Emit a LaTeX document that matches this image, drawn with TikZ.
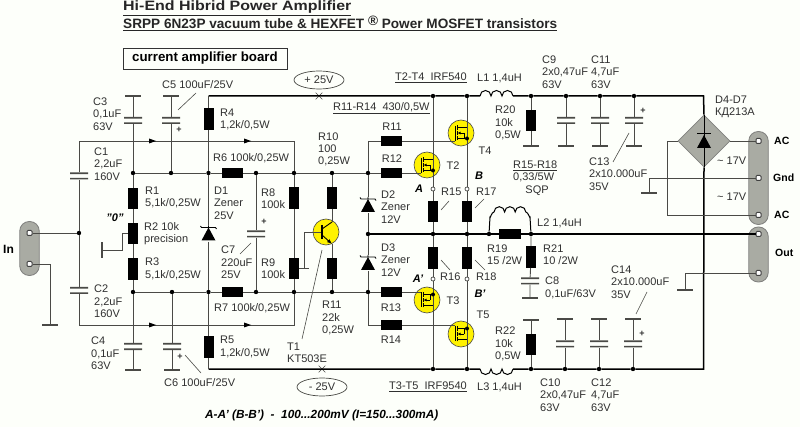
\documentclass[tikz,border=0pt]{standalone}
\usepackage{fontspec}
\setmainfont{Liberation Sans}
\usetikzlibrary{arrows.meta,calc,shapes.geometric,shapes.misc}
\definecolor{paper}{HTML}{FDFFFA}
\definecolor{wirec}{HTML}{4A4A46}
\definecolor{labc}{HTML}{303030}
\definecolor{stripc}{HTML}{A9ABA3}
\tikzset{
  wire/.style={wirec, line width=0.9pt},
  rail/.style={black, line width=1.5pt},
  lead/.style={wirec, line width=0.6pt},
  res/.style={rectangle, fill=black, inner sep=0pt, minimum width=10pt, minimum height=21.5pt},
  hres/.style={rectangle, fill=black, inner sep=0pt, minimum width=21.5pt, minimum height=10pt},
  dot/.style={circle, fill=black, inner sep=0pt, minimum size=4.4pt},
  opendot/.style={circle, draw=wirec, fill=white, line width=0.7pt, inner sep=0pt, minimum size=4pt},
  bar/.style={rectangle, fill=wirec, inner sep=0pt, minimum width=16pt, minimum height=1.4pt},
  vbar/.style={rectangle, fill=wirec, inner sep=0pt, minimum width=1.4pt, minimum height=16pt},
  capv/.style={rectangle, inner sep=0pt, minimum width=18pt, minimum height=7pt, path picture={
    \fill[wirec, shift={(path picture bounding box.center)}] (-9,-3.5) rectangle (9,-1.9) (-9,1.9) rectangle (9,3.5);}},
  zen/.style={rectangle, inner sep=0pt, minimum width=18pt, minimum height=16pt, path picture={
    \begin{scope}[shift={(path picture bounding box.center)}]
    \fill[black] (-7,7) -- (7,7) -- (0,-6) -- cycle;
    \draw[black, line width=0.9pt] (-8,-7.5) -- (-7,-6) -- (7,-6) -- (8,-4.5) (0,-8) -- (0,-6);
    \end{scope}}},
  trans/.style={circle, fill=yellow, draw=wirec, line width=0.6pt, inner sep=0pt, minimum size=26pt},
  strip/.style={rectangle, rounded corners=9.5pt, fill=stripc, draw=wirec!70, line width=0.8pt, inner sep=0pt, minimum width=19.5pt},
  hole/.style={rectangle, rounded corners=1pt, fill=white, draw=black!75, line width=1pt, inner sep=0pt, minimum size=5pt},
  ell/.style={ellipse, draw=wirec, line width=0.7pt, inner sep=0pt, minimum width=50pt, minimum height=18pt, text=labc, font=\fontsize{11}{12}\selectfont},
  xmark/.style={cross out, draw=wirec, line width=0.6pt, inner sep=0pt, minimum size=6pt},
  lab/.style={anchor=west, align=left, inner sep=0pt, text=labc, font=\fontsize{11}{12.3}\selectfont},
  clab/.style={inner sep=0pt, text=labc, font=\fontsize{11}{12.3}\selectfont},
  tag/.style={inner sep=0pt, text=black, font=\fontsize{11}{12}\bfseries\itshape\selectfont},
  conn/.style={anchor=west, inner sep=0pt, text=black, font=\fontsize{10.5}{12}\bfseries\selectfont},
  titlelab/.style={anchor=west, inner sep=0pt, text=black!85, font=\fontsize{13.6}{15}\bfseries\selectfont},
}
\newcommand{\fetsym}[2]{%
  \begin{scope}[shift={(#1.center)}, yscale=#2, black, line width=0.9pt]
  \draw (-6,-7) -- (-6,8);
  \draw (-4,-7.5) -- (-4,-3) (-4,-2) -- (-4,2) (-4,3) -- (-4,7.5);
  \draw (-4,-5.5) -- (6,-5.5) (-4,5.5) -- (6,5.5) (3,0) -- (3,5.5);
  \draw[-{Latex[length=3pt,width=3pt]}] (3,0) -- (-3.5,0);
  \fill (6,5.5) circle (2);
  \end{scope}}
\newcommand{\coilup}[1]{\draw[rail, line width=1pt] (#1) foreach \k in {1,2,3} {arc (180:360:5.5)};}
\begin{document}
\begin{tikzpicture}[x=1pt,y=-1pt]
\useasboundingbox (0,0) rectangle (800,427);
\fill[paper] (0,0) rectangle (800,427);

% Title and board name
\node[titlelab] (title1) at (123,8) {\scalebox{1.175}[1]{\underline{Hi-End Hibrid Power Amplifier}}};
\node[titlelab] (title2) at (123,23) {\underline{SRPP 6N23P vacuum tube \& HEXFET \raisebox{3pt}{\textregistered} Power MOSFET transistors}};
\node[draw=black!80, line width=0.8pt, inner sep=0pt, minimum width=164pt, minimum height=21pt, font=\fontsize{13.3}{15}\bfseries\selectfont] (board) at (205,58.5) {current amplifier board};

% Supply marks
\node[ell] (vplus) at (319,80) {+ 25V};
\node[ell] (vminus) at (322,387) {- 25V};
\node[xmark] (xplus) at (319,96) {};
\node[xmark] (xminus) at (322,369) {};

% Connectors
\node[strip, minimum height=54pt] (inbar) at (29.5,248.5) {};
\node[hole] (in1) at (29.5,233) {};
\node[hole] (in2) at (29.5,264) {};
\node[strip, minimum height=93pt] (acbar) at (758.5,178) {};
\node[hole] (ac1) at (758.5,141) {};
\node[hole] (gnd1) at (758.5,178) {};
\node[hole] (ac2) at (758.5,215) {};
\node[strip, minimum height=55pt] (outbar) at (758.5,254.5) {};
\node[hole] (out1) at (758.5,234) {};
\node[hole] (out2) at (758.5,273) {};

% Resistors
\node[res] (R4) at (208.5,119) {};
\node[res] (R1) at (133,198.5) {};
\node[res] (R2) at (133,233.5) {};
\node[res] (R3) at (133,269) {};
\node[res] (R5) at (208.5,347) {};
\node[hres] (R6) at (232.5,173) {};
\node[hres] (R7) at (232.5,292) {};
\node[res] (R8) at (294,198) {};
\node[res] (R9) at (294,268.5) {};
\node[res] (R10) at (332,198) {};
\node[res] (R11b) at (332,268.5) {};
\node[hres] (R11) at (391.5,141) {};
\node[hres] (R12) at (391.5,173) {};
\node[hres] (R13) at (391.5,292) {};
\node[hres] (R14) at (391.5,325) {};
\node[res] (R15) at (433,211.5) {};
\node[res] (R16) at (433,258) {};
\node[res] (R17) at (467,211.5) {};
\node[res] (R18) at (467,258) {};
\node[hres] (R19) at (510,234) {};
\node[res] (R20) at (531,120.5) {};
\node[res] (R21) at (531,257) {};
\node[res] (R22) at (531,344.5) {};

% Capacitors
\node[capv] (C1) at (79,176) {};
\node[capv] (C2) at (79,290.5) {};
\node[capv] (C3) at (133,120.5) {};
\node[capv] (C4) at (133,346.5) {};
\node[capv] (C5) at (171,120.5) {};
\node[capv] (C6) at (172,346.5) {};
\node[capv] (C7) at (256,234) {};
\node[capv] (C8) at (530,281) {};
\node[capv] (C9) at (566,120.5) {};
\node[capv] (C10) at (565,344) {};
\node[capv] (C11) at (600,120.5) {};
\node[capv] (C12) at (599,344) {};
\node[capv] (C13) at (634,120.5) {};
\node[capv] (C14) at (633,344) {};
\node[bar] (bC3) at (133,96) {};
\node[bar] (bC4) at (133,370) {};
\node[bar] (bC5) at (171,96) {};
\node[bar] (bC6) at (172,370) {};
\node[bar] (bC8) at (530,298) {};
\node[bar] (bC9) at (566,146) {};
\node[bar] (bC10) at (565,319) {};
\node[bar] (bC11) at (600,146) {};
\node[bar] (bC12) at (599,319) {};
\node[bar] (bC13) at (634,146) {};
\node[bar] (bC14) at (633,319) {};
\node[bar] (bR20) at (531,146) {};
\node[bar] (bR22) at (531,320) {};

% Grounds
\node[bar] (gIn) at (50,325) {};
\node[vbar] (gR2) at (102,250) {};
\node[bar] (gGnd) at (649,193) {};
\node[bar] (gOut) at (685,290) {};

% Zeners, transistors, bridge
\node[zen] (D1) at (208.5,233.5) {};
\node[zen] (D2) at (368,205) {};
\node[zen] (D3) at (368,263) {};
\node[trans] (T1) at (326,232) {};
\node[trans] (T2) at (427,165) {};
\node[trans] (T3) at (427,300) {};
\node[trans] (T4) at (461,133) {};
\node[trans] (T5) at (461,334) {};
\node[diamond, fill=stripc, draw=wirec!70, line width=0.6pt, inner sep=0pt, minimum size=52pt] (BR) at (704,141) {};

% Junctions
\foreach \nm/\px/\py in {t433/433/96, t467/467/96, t531/531/96, t566/566/96, t600/600/96, t634/634/96,
  b433/433/369, b467/467/369, b531/531/369, b565/565/369, b599/599/369, b633/633/369,
  d133/133/173, d171/171/173, d208/208.5/173, d256/256/173, d294/294/173, d332/332/173, d368/368/173,
  e133/133/292, e172/172/292, e208/208.5/292, e256/256/292, e294/294/292, e332/332/292, e368/368/292,
  i79/79/233, m368/368/234, m433/433/234, m467/467/234, l489/489/234, l531/531/234}
  \node[dot] (\nm) at (\px,\py) {};
\node[opendot] (o15) at (433,189) {};
\node[opendot] (o17) at (467,189) {};
\node[opendot] (o16) at (433,279) {};
\node[opendot] (o18) at (467,279) {};

% Corners
\coordinate (r208) at (208.5,96);
\coordinate (r703) at (703.5,96);
\coordinate (q208) at (208.5,369);
\coordinate (q703) at (703.5,369);
\coordinate (a79) at (79,141);
\coordinate (a294) at (294,141);
\coordinate (c79) at (79,325);
\coordinate (c294) at (294,325);
\coordinate (f368) at (368,141);
\coordinate (g368) at (368,325);
\coordinate (L1a) at (480,96);
\coordinate (L3a) at (480,369);
\coordinate (L1b) at (513,96);
\coordinate (L3b) at (513,369);
\coordinate (L2a) at (490,217);
\coordinate (L2b) at (530,217);
\coordinate (k667) at (667,141);
\coordinate (n667) at (667,215);
\coordinate (gT2) at (421,173);
\coordinate (gT3) at (421,292);
\coordinate (gT4) at (455,141);
\coordinate (gT5) at (455,325);
\coordinate (cT1) at (332,222);
\coordinate (eT1) at (332,244);
\coordinate (bT1) at (322,232);
\coordinate (s304) at (304,232);
\coordinate (w304) at (304,268);
\coordinate (w309) at (309,268);
\coordinate (wR2) at (122,233.5);

% Power rails
\draw[rail] (r208) -- (t433) -- (t467) -- (L1a) (L1b) -- (t531) -- (t566) -- (t600) -- (t634) -- (r703) -- (BR.north);
\draw[rail] (q208) -- (b433) -- (b467) -- (L3a) (L3b) -- (b531) -- (b565) -- (b599) -- (b633) -- (q703) -- (BR.south);
\draw[rail] (m368) -- (m433) -- (m467) -- (l489) -- (R19) -- (l531) -- (out1);
\coilup{L1a}
\draw[rail, line width=1pt] (L3a) foreach \k in {1,2,3} {arc (180:0:5.5)};
\draw[rail, line width=1pt] (l489) -- (L2a) to[out=-90,in=180] ++(4,-5) arc (180:360:5.3) arc (180:360:5.3) arc (180:360:5.3) to[out=0,in=-90] (L2b) -- (l531);

% Input side
\draw[wire] (in1) -- (i79);
\draw[wire] (in2) -| (gIn);
\draw[wire] (C1) -- (a79) -- (a294) -- (d294);
\draw[wire] (C1) -- (i79) -- (C2);
\draw[wire] (C2) -- (c79) -- (c294) -- (e294);
\draw[wire] (bC3) -- (C3);
\draw[wire] (C3) -- (d133) -- (R1) -- (R2) -- (R3) -- (e133) -- (C4) -- (bC4);
\draw[wire] (bC5) -- (C5) -- (d171);
\draw[wire] (e172) -- (C6) -- (bC6);
\draw[wire] (R2.west) -- (wR2) -- (wR2 |- gR2) -- (gR2);
\draw[wire] (r208) -- (R4) -- (d208) -- (D1) -- (e208) -- (R5) -- (q208);
\draw[wire] (d133) -- (d171) -- (d208) -- (R6) -- (d256) -- (d294) -- (d332) -- (d368) -- (R12) -- (gT2);
\draw[wire] (e133) -- (e172) -- (e208) -- (R7) -- (e256) -- (e294) -- (e332) -- (e368) -- (R13) -- (gT3);
\draw[wire] (d256) -- (C7) -- (e256);
\draw[wire] (d294) -- (R8) -- (R9) -- (e294);
\draw[wire] (d332) -- (R10) -- (cT1);
\draw[wire] (eT1) -- (R11b) -- (e332);
\draw[wire] (bT1) -- (s304) -- (w304);
\draw[wire] (R9.east |- w304) -- (w309);
\draw[wire] (f368) -- (d368) -- (D2) -- (m368) -- (D3) -- (e368) -- (g368) -- (R14) -- (gT5);
\draw[wire] (f368) -- (R11) -- (gT4);

% Output stage
\draw[wire] (t433) -- (o15) -- (R15) -- (m433) -- (R16) -- (o16) -- (b433);
\draw[wire] (t467) -- (o17) -- (R17) -- (m467) -- (R18) -- (o18) -- (b467);
\draw[wire] (t531) -- (R20) -- (bR20);
\draw[wire] (bR22) -- (R22) -- (b531);
\draw[wire] (l531) -- (R21) -- (C8) -- (bC8);
\draw[wire] (t566) -- (C9) -- (bC9);
\draw[wire] (t600) -- (C11) -- (bC11);
\draw[wire] (t634) -- (C13) -- (bC13);
\draw[wire] (bC10) -- (C10) -- (b565);
\draw[wire] (bC12) -- (C12) -- (b599);
\draw[wire] (bC14) -- (C14) -- (b633);

% Bridge and outputs
\draw[wire] (BR.east) -- (ac1);
\draw[wire] (BR.west) -- (k667) -- (n667) -- (ac2);
\draw[wire] (gnd1) -| (gGnd);
\draw[wire] (out2) -| (gOut);

% Symbols on top
\fetsym{T2}{1}
\fetsym{T4}{1}
\fetsym{T3}{-1}
\fetsym{T5}{-1}
\begin{scope}[shift={(T1.center)}, black, line width=0.9pt]
\draw[line width=1.3pt] (-4,-7) -- (-4,7);
\draw (-4,-3) -- (6,-10);
\draw[-{Latex[length=5pt,width=4pt]}] (-4,3) -- (6,12);
\end{scope}
\begin{scope}[shift={(BR.center)}, black]
\draw[line width=0.8pt] (0,-26) -- (0,26) (-7,-8) -- (7,-8);
\fill (-7,7) -- (7,7) -- (0,-6) -- cycle;
\end{scope}
\foreach \px in {152,247} {
  \fill[black] (\px-3,138.5) -- (\px+4,141) -- (\px-3,143.5) -- cycle;
  \fill[black] (\px-3,322.5) -- (\px+4,325) -- (\px-3,327.5) -- cycle;
}

% Leader lines
\foreach \ax/\ay/\bx/\by in {178/110/196/93, 185/355/201/373, 240/254/251/243, 322/250/302/339,
  441/210/449/201, 475/208/484/199, 441/260/450/270, 475/260/485/270, 613/162/629/133, 636/314/647/292}
  \draw[lead] (\ax,\ay) -- (\bx,\by);

% Polarity signs
\foreach \nm/\px/\py in {pC5/179/130, pC6/180/357, pC7/264/222, pC13/643/111, pC14/642/334}
  \node[clab, font=\fontsize{9}{10}\bfseries\selectfont] (\nm) at (\px,\py) {+};

% Labels, left part
\node[lab] (lC3) at (93,114) {C3\\0,1uF\\63V};
\node[lab] (lC1) at (94,164) {C1\\2,2uF\\160V};
\node[lab] (lC2) at (94,301.5) {C2\\2,2uF\\160V};
\node[lab] (lC4) at (91,353.5) {C4\\0,1uF\\63V};
\node[lab] (lC5) at (162,85) {C5 100uF/25V};
\node[lab] (lC6) at (164,383) {C6 100uF/25V};
\node[lab] (lR1) at (145,197.5) {R1\\5,1k/0,25W};
\node[lab] (lR2) at (144,233.5) {R2 10k\\precision};
\node[lab] (lR3) at (145,269) {R3\\5,1k/0,25W};
\node[tag] (lzero) at (115,218) {"0"};
\node[lab] (lR4) at (220,119.5) {R4\\1,2k/0,5W};
\node[lab] (lR5) at (220,347) {R5\\1,2k/0,5W};
\node[lab] (lR6) at (213,158) {R6 100k/0,25W};
\node[lab] (lR7) at (214,308) {R7 100k/0,25W};
\node[lab] (lD1) at (214,203) {D1\\Zener\\25V};
\node[lab] (lC7) at (221,262.5) {C7\\220uF\\25V};
\node[lab] (lR8) at (261,198.5) {R8\\100k};
\node[lab] (lR9) at (261,269) {R9\\100k};
\node[lab] (lR10) at (318,149.5) {R10\\100\\0,25W};
\node[lab] (lR11b) at (322,318) {R11\\22k\\0,25W};
\node[lab] (lT1) at (287,353) {T1\\KT503E};
\node[lab] (lD2) at (381,207) {D2\\Zener\\12V};
\node[lab] (lD3) at (381,260) {D3\\Zener\\12V};
\node[lab] (lT2T4) at (395,78) {\underline{T2-T4\ \ IRF540}};
\node[lab] (lT3T5) at (389,387) {\underline{T3-T5\ \ IRF9540}};
\node[lab] (lRR) at (333,108) {\underline{R11-R14\ \ 430/0,5W}};
\node[clab] (lR11) at (392,127) {R11};
\node[clab] (lR12) at (392,159) {R12};
\node[clab] (lR13) at (391,308) {R13};
\node[clab] (lR14) at (391,340) {R14};

% Labels, output stage
\node[clab] (lT2) at (453,166) {T2};
\node[clab] (lT4) at (485,151) {T4};
\node[clab] (lT3) at (453,301) {T3};
\node[clab] (lT5) at (483,315) {T5};
\node[tag] (lA) at (419,189) {A};
\node[tag] (lB) at (479,176) {B};
\node[tag] (lAp) at (418,279) {A'};
\node[tag] (lBp) at (480,294) {B'};
\node[lab] (lR15) at (441,192) {R15};
\node[lab] (lR17) at (476,192) {R17};
\node[lab] (lR16) at (440,277) {R16};
\node[lab] (lR18) at (476,277) {R18};
\node[lab] (lL1) at (477,78) {L1 1,4uH};
\node[lab] (lL2) at (537,223) {L2 1,4uH};
\node[lab] (lL3) at (477,387) {L3 1,4uH};
\node[lab] (lR20) at (495,123) {R20\\10k\\0,5W};
\node[lab] (lR22) at (495,344) {R22\\10k\\0,5W};
\node[lab] (lR19) at (487,255) {R19\\15 /2W};
\node[lab] (lR21) at (543,255) {R21\\10 /2W};
\node[lab] (lC8) at (545,288) {C8\\0,1uF/63V};
\node[lab] (lR15b) at (513,178) {\underline{R15-R18}\\0,33/5W\\\ \ \ \ SQP};

% Labels, capacitors and bridge
\node[lab] (lC9) at (542,72) {C9\\2x0,47uF\\63V};
\node[lab] (lC11) at (591,72) {C11\\4,7uF\\63V};
\node[lab] (lC13) at (589,174) {C13\\2x10.000uF\\35V};
\node[lab] (lC14) at (611,282) {C14\\2x10.000uF\\35V};
\node[lab] (lC10) at (540,395) {C10\\2x0,47uF\\63V};
\node[lab] (lC12) at (591,395) {C12\\4,7uF\\63V};
\node[lab] (lD4) at (715,106.5) {D4-D7\\КД213А};
\node[lab] (lac1) at (717,161) {\char"7E{} 17V};
\node[lab] (lac2) at (717,197) {\char"7E{} 17V};
\node[conn] (lAC1) at (774,141) {AC};
\node[conn] (lGnd) at (773,178) {Gnd};
\node[conn] (lAC2) at (774,215) {AC};
\node[conn] (lOut) at (775,253) {Out};
\node[conn, font=\fontsize{12}{13}\bfseries\selectfont] (lIn) at (3,249) {In};
\node[anchor=west, inner sep=0pt, font=\fontsize{11.8}{13}\bfseries\itshape\selectfont] (lnote) at (205,415) {A-A' (B-B')\ \ -\ \ 100...200mV (I=150...300mA)};
\end{tikzpicture}
\end{document}
